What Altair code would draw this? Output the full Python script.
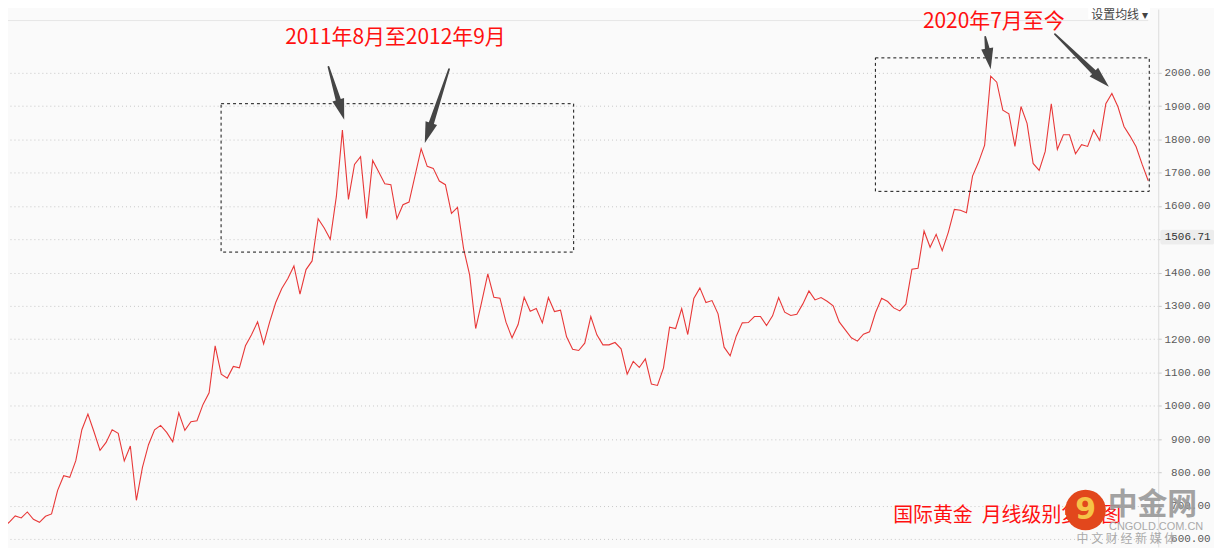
import math
import altair as alt
import pandas as pd

# ---------------- data (monthly close, Nov 2006 .. Sep 2022) ----------------
START_YEAR, START_MONTH = 2006, 11
prices = [
    645, 634,
    650, 669, 663, 681, 659, 650, 668, 675, 746, 790, 785, 835,          # 2007
    928, 975, 922, 866, 890, 928, 917, 834, 879, 716, 815, 883,          # 2008
    928, 941, 920, 892, 979, 926, 952, 955, 1004, 1039, 1180, 1095,      # 2009
    1083, 1118, 1114, 1180, 1213, 1252, 1186, 1252, 1310, 1352, 1382, 1420,  # 2010
    1335, 1409, 1435, 1562, 1534, 1500, 1628, 1828, 1620, 1725, 1748, 1563,  # 2011
    1737, 1702, 1667, 1664, 1562, 1604, 1612, 1692, 1772, 1719, 1713, 1675,  # 2012
    1664, 1578, 1596, 1472, 1393, 1232, 1313, 1396, 1326, 1323, 1251, 1204,  # 2013
    1244, 1326, 1284, 1292, 1249, 1325, 1283, 1287, 1207, 1170, 1166, 1188,  # 2014
    1268, 1213, 1183, 1183, 1190, 1171, 1095, 1133, 1115, 1141, 1065, 1061,  # 2015
    1114, 1236, 1232, 1292, 1214, 1322, 1354, 1310, 1316, 1276, 1176, 1150,  # 2016
    1209, 1249, 1250, 1268, 1268, 1241, 1270, 1325, 1281, 1271, 1275, 1306,  # 2017
    1345, 1318, 1325, 1314, 1300, 1252, 1228, 1204, 1194, 1215, 1222, 1280,  # 2018
    1323, 1313, 1294, 1285, 1305, 1410, 1413, 1525, 1476, 1515, 1466, 1521,  # 2019
    1590, 1587, 1580, 1690, 1732, 1783, 1990, 1972, 1888, 1877, 1779, 1899,  # 2020
    1848, 1728, 1707, 1764, 1907, 1770, 1814, 1814, 1757, 1784, 1779, 1828,  # 2021
    1797, 1907, 1938, 1898, 1839, 1810, 1778, 1725, 1676,                    # 2022
]
month_index = list(range(len(prices)))
month_labels = [
    f"{START_YEAR + (START_MONTH - 1 + i) // 12}-{(START_MONTH - 1 + i) % 12 + 1:02d}"
    for i in month_index
]
y_ticks = [600, 700, 800, 900, 1000, 1100, 1200, 1300, 1400, 1500,
           1600, 1700, 1800, 1900, 2000]
current_value = 1506.71

# annotation boxes (month index, price)
box_x1 = [36.98, 144.97]
box_x2 = [95.17, 190.17]
box_y1 = [1907.3, 2044.9]
box_y2 = [1461.6, 1644.0]

# arrows: tail (month, price) -> tip (month, price)
arrow_tail_x = [54.7, 74.6, 163.1, 174.6]
arrow_tail_y = [2018, 2011, 2108, 2116]
arrow_tip_x = [57.3, 70.6, 164.0, 183.5]
arrow_tip_y = [1859, 1789, 2011, 1958]

# ---------------- scales ----------------
W, H = 1155, 540
X0, X1 = 1.81, 191.65
Y0, Y1 = 576.1, 2191.4
KX = W / (X1 - X0)
KY = H / (Y1 - Y0)
xs = alt.Scale(domain=[X0, X1], nice=False, zero=False)
ys = alt.Scale(domain=[Y0, Y1], nice=False, zero=False)

y_axis = alt.Axis(
    orient="right", values=y_ticks, format=".2f", title=None,
    labelFont="Liberation Mono", labelFontSize=11, labelColor="#5a5a5a",
    labelAlign="right", labelPadding=49, tickSize=3, tickColor="#cccccc",
    domainColor="#dcdcdc", grid=True, gridColor="#c8c8c8",
    gridDash=[1, 3], labelBaseline="middle")


def X(f):
    return alt.X(f, type="quantitative", scale=xs, axis=None)


def Y(f):
    return alt.Y(f, type="quantitative", scale=ys, axis=y_axis)


df = pd.DataFrame({"m": month_index, "price": prices, "month": month_labels})

line = alt.Chart(df).mark_line(color="#e83838", strokeWidth=1.1, clip=True).encode(
    x=X("m"), y=Y("price"))

header = alt.Chart(pd.DataFrame({"a": [X0], "b": [190.0], "y": [2157]})).mark_rule(
    color="#e6e6e6", strokeWidth=1).encode(x=X("a"), x2="b", y=Y("y"))

boxes = alt.Chart(pd.DataFrame({"x1": box_x1, "x2": box_x2, "y1": box_y1, "y2": box_y2})).mark_rect(
    fillOpacity=0, stroke="#111111", strokeWidth=1, strokeDash=[3, 3]).encode(
    x=X("x1"), x2="x2", y=Y("y1"), y2="y2")

# arrows
HEAD_LEN = 18
trail_rows, head_rows = [], []
for k in range(len(arrow_tail_x)):
    dx = (arrow_tip_x[k] - arrow_tail_x[k]) * KX
    dy = -(arrow_tip_y[k] - arrow_tail_y[k]) * KY
    L = math.hypot(dx, dy)
    ux, uy = dx / L, dy / L
    ang = math.degrees(math.atan2(dx, -dy)) % 360
    bx = arrow_tip_x[k] - HEAD_LEN * ux / KX
    by = arrow_tip_y[k] + HEAD_LEN * uy / KY
    trail_rows.append({"id": k, "o": 0, "x": arrow_tail_x[k], "y": arrow_tail_y[k], "w": 1.8})
    trail_rows.append({"id": k, "o": 1, "x": bx, "y": by, "w": 5.5})
    head_rows.append({"x": arrow_tip_x[k], "y": arrow_tip_y[k], "a": ang})

shafts = alt.Chart(pd.DataFrame(trail_rows)).mark_trail(color="#454545").encode(
    x=X("x"), y=Y("y"), size=alt.Size("w:Q", scale=None), detail="id:N", order="o:Q")
heads = alt.Chart(pd.DataFrame(head_rows)).mark_point(
    shape="M0,0L0.58,2L-0.58,2Z", filled=True, color="#454545", opacity=1, size=441,
    strokeWidth=0).encode(x=X("x"), y=Y("y"), angle=alt.Angle("a:Q", scale=None))

RED = "#ff1010"
t1 = alt.Chart(pd.DataFrame({"x": [65.75], "y": [2104.7], "t": ["2011年8月至2012年9月"]})).mark_text(
    font="Noto Sans CJK SC", fontSize=21, color=RED, align="center", baseline="middle").encode(
    x=X("x"), y=Y("y"), text="t:N")
t2 = alt.Chart(pd.DataFrame({"x": [164.5], "y": [2152.5], "t": ["2020年7月至今"]})).mark_text(
    font="Noto Sans CJK SC", fontSize=21, color=RED, align="center", baseline="middle").encode(
    x=X("x"), y=Y("y"), text="t:N")
t3 = alt.Chart(pd.DataFrame({"x": [147.9], "y": [668.9],
                             "t": ["国际黄金\u00a0\u00a0月线级别复盘图"]})).mark_text(
    font="Noto Sans CJK SC", fontSize=20, color=RED, align="left", baseline="middle").encode(
    x=X("x"), y=Y("y"), text="t:N")

# current value tag on the axis
tag_rect = alt.Chart(pd.DataFrame({"a": [192.0], "b": [200.9], "y1": [current_value - 22],
                                   "y2": [current_value + 22]})).mark_rect(
    fill="#ededed", cornerRadius=2).encode(x=X("a"), x2="b", y=Y("y1"), y2="y2")
tag_text = alt.Chart(pd.DataFrame({"x": [200.3], "y": [current_value],
                                   "t": [f"{current_value:.2f}"]})).mark_text(
    font="Liberation Mono", fontSize=11, color="#333333", align="right", baseline="middle").encode(
    x=X("x"), y=Y("y"), text="t:N")

# watermark logo
logo = alt.Chart(pd.DataFrame({"x": [179.65], "y": [686.8]})).mark_point(
    shape="circle", filled=True, color="#e2471c", opacity=1, size=1660).encode(x=X("x"), y=Y("y"))
logo9 = alt.Chart(pd.DataFrame({"x": [179.65], "y": [686.8], "t": ["9"]})).mark_text(
    font="DejaVu Sans", fontWeight="bold", fontSize=30, color="#f6c347", align="center",
    baseline="middle").encode(x=X("x"), y=Y("y"), text="t:N")
wm1 = alt.Chart(pd.DataFrame({"x": [183.3], "y": [701.8], "t": ["中金网"]})).mark_text(
    font="Noto Sans CJK SC", fontWeight="bold", fontSize=30, color="#999999", opacity=0.9,
    align="left", baseline="middle").encode(x=X("x"), y=Y("y"), text="t:N")
wm2 = alt.Chart(pd.DataFrame({"x": [191.3], "y": [636], "t": ["CNGOLD.COM.CN"]})).mark_text(
    font="Liberation Sans", fontSize=11, color="#aaaaaa", align="center",
    baseline="middle").encode(x=X("x"), y=Y("y"), text="t:N")
wm3 = alt.Chart(pd.DataFrame({"x": [186.4], "y": [600], "t": ["中 文 财 经 新 媒 体"]})).mark_text(
    font="Noto Sans CJK SC", fontSize=12, color="#aaaaaa", align="center",
    baseline="middle").encode(x=X("x"), y=Y("y"), text="t:N")

# top-right button
btn_rect = alt.Chart(pd.DataFrame({"a": [180.1], "b": [190.3], "y1": [2162], "y2": [2200]})).mark_rect(
    fill="#ffffff").encode(x=X("a"), x2="b", y=Y("y1"), y2="y2")
btn_text = alt.Chart(pd.DataFrame({"x": [180.6], "y": [2172.5], "t": ["设置均线 ▾"]})).mark_text(
    font="Noto Sans CJK SC", fontSize=12, color="#444444", align="left",
    baseline="middle").encode(x=X("x"), y=Y("y"), text="t:N")

chart = alt.layer(
    line, header, boxes, shafts, heads, t1, t2, t3, tag_rect, tag_text,
    logo, logo9, wm1, wm2, wm3, btn_rect, btn_text,
).properties(
    width=W, height=H,
    autosize=alt.AutoSizeParams(type="none"),
    padding={"left": 0, "top": 0, "right": 56, "bottom": 0},
    background="#fafafa",
).configure_view(stroke=None)

chart.save("out.html", embed_options={"renderer": "svg", "actions": False})
